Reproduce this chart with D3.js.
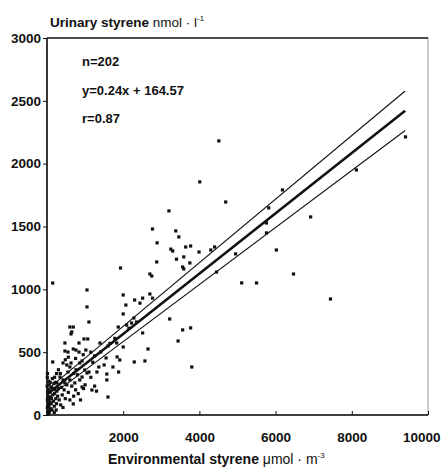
<!DOCTYPE html>
<html>
<head>
<meta charset="utf-8">
<script src="https://cdn.jsdelivr.net/npm/d3@7"></script>
<style>
  body { margin: 0; background: #fff; }
  svg text { font-family: "Liberation Sans", Arial, sans-serif; fill: #111; }
</style>
</head>
<body>
<div id="chart"></div>
<script>
// valeurs (x = styrene ambiant, y = styrene urinaire)
const X_TICKS = [2000, 4000, 6000, 8000, 10000];
const Y_TICKS = [0, 500, 1000, 1500, 2000, 2500, 3000];
const STATS = ["n=202", "y=0.24x + 164.57", "r=0.87"];

// droite de regression + les deux droites encadrantes : [ordonnee a l'origine, pente]
const FIT = [164.57, 0.24];
const BAND_UPPER = [200, 0.253];
const BAND_LOWER = [130, 0.227];
const FIT_RANGE = [0, 9400];

const pointsX = [
  9410, 8120, 6180, 5820, 5760, 5760, 6920, 6020, 6470, 7440,
  4510, 4010, 4690, 5110, 5500, 4950, 4450, 3200, 2770, 2890,
  3380, 3460, 3250, 3300, 3640, 3770, 3400, 3590, 3560, 3590,
  3750, 3990, 4300, 4400, 2880, 2700, 2750, 1930, 1050, 1050,
  1100, 2000, 2070, 2000, 2300, 2440, 2510, 2700, 2770, 1870,
  2090, 2220, 2280, 3220, 2510, 3560, 3770, 3440, 2650, 2570,
  2290, 3800, 1910, 1840, 1730, 1880, 2000, 1830, 1390, 1600,
  1410, 1550, 1500, 1360, 1570, 1570, 1310, 600, 650, 630,
  690, 470, 840, 970, 1070, 470, 550, 690, 760, 840,
  1020, 150, 420, 520, 600, 630, 860, 920, 990, 1050,
  1100, 860, 920, 550, 340, 420, 470, 600, 260, 730,
  150, 1600, 690, 1180, 920, 960, 1650, 1780, 2150, 2350,
  20, 40, 60, 80, 100, 30, 50, 70, 90, 110,
  130, 150, 170, 190, 210, 230, 250, 60, 120, 180,
  30, 15, 45, 85, 140, 200, 240, 280, 300, 25,
  10, 10, 5, 35, 55, 75, 95, 115, 160, 190,
  220, 260, 320, 360, 380, 400, 420, 450, 480, 520,
  560, 600, 650, 700, 750, 800, 820, 880, 1000, 1150,
  1250, 1300, 700, 760, 350, 300, 250, 200, 480, 560,
  750, 1200, 1250, 1150, 950, 8, 12, 18
];
const pointsY = [
  2213, 1950, 1791, 1648, 1528, 1449, 1576, 1313, 1122, 923,
  2181, 1855, 1695, 1051, 1051, 1282, 1138, 1624, 1480, 1370,
  1465, 1417, 1320, 1305, 1337, 1345, 1240, 1258, 1178, 1162,
  1210, 1297, 1313, 1337, 1218, 1122, 1106, 1170, 995, 860,
  740, 955, 875, 804, 915, 890, 930, 963, 930, 700,
  716, 732, 772, 764, 653, 677, 693, 589, 525, 430,
  422, 382, 438, 462, 382, 342, 541, 573, 573, 549,
  501, 454, 398, 382, 326, 279, 342, 700, 661, 645,
  700, 573, 573, 605, 605, 509, 501, 525, 517, 501,
  517, 422, 414, 398, 382, 414, 414, 430, 358, 334,
  342, 279, 302, 342, 302, 279, 255, 279, 255, 255,
  1050, 143, 88, 199, 223, 210, 570, 610, 690, 740,
  30, 60, 20, 100, 50, 150, 120, 180, 140, 90,
  40, 160, 110, 70, 200, 130, 90, 240, 220, 250,
  90, 180, 200, 260, 290, 170, 40, 150, 210, 10,
  60, 120, 230, 270, 80, 45, 190, 130, 210, 20,
  260, 190, 120, 80, 220, 160, 60, 200, 130, 240,
  180, 120, 230, 150, 200, 320, 170, 120, 240, 300,
  230, 190, 330, 360, 330, 360, 330, 300, 440, 460,
  450, 420, 470, 500, 480, 300, 330, 5
];

const W = 441, H = 468;

const svg = d3.select("#chart").append("svg")
    .attr("width", W)
    .attr("height", H);

const x = d3.scaleLinear().domain([0, 10000]).range([47, 428]);
const y = d3.scaleLinear().domain([0, 3000]).range([415, 38]);

// cadre
svg.append("rect")
    .attr("x", x(0)).attr("y", y(3000))
    .attr("width", x(10000) - x(0)).attr("height", y(0) - y(3000))
    .attr("fill", "none").attr("stroke", "#999").attr("stroke-width", 1);
svg.append("line")
    .attr("x1", x(0)).attr("x2", x(0)).attr("y1", y(3000)).attr("y2", y(0))
    .attr("stroke", "#111").attr("stroke-width", 1.6);
svg.append("line")
    .attr("x1", x(0)).attr("x2", x(10000)).attr("y1", y(0)).attr("y2", y(0))
    .attr("stroke", "#111").attr("stroke-width", 1.6);
svg.append("line")
    .attr("x1", x(0)).attr("x2", x(10000)).attr("y1", y(3000)).attr("y2", y(3000))
    .attr("stroke", "#222").attr("stroke-width", 1.4);

// axe y
const yAxis = svg.append("g")
    .attr("transform", `translate(${x(0)},0)`)
    .call(d3.axisLeft(y).tickValues(Y_TICKS).tickFormat(d3.format("d"))
        .tickSize(4).tickSizeOuter(0).tickPadding(2));
yAxis.select(".domain").remove();
yAxis.selectAll("text")
    .attr("font-size", 13.5).attr("font-weight", 700)
    .attr("font-family", "Liberation Sans, Arial, sans-serif")
    .attr("fill", "#111");
yAxis.selectAll("line").attr("stroke", "#111");

// axe x (graduations vers l'interieur)
const xAxis = svg.append("g")
    .attr("transform", `translate(0,${y(0)})`)
    .call(d3.axisBottom(x).tickValues(X_TICKS).tickFormat(d3.format("d"))
        .tickSize(-4).tickSizeOuter(0).tickPadding(17));
xAxis.select(".domain").remove();
xAxis.selectAll("text")
    .attr("font-size", 13.5).attr("font-weight", 700)
    .attr("font-family", "Liberation Sans, Arial, sans-serif")
    .attr("fill", "#111");
// le dernier libelle est coupe dans l'original : on le garde dans la page
xAxis.selectAll(".tick").filter(d => d === 10000).select("text")
    .attr("text-anchor", "end").attr("dx", 440 - x(10000));
xAxis.selectAll("line").attr("stroke", "#111");

// droites
function drawFit(coef, width) {
    svg.append("line")
        .attr("x1", x(FIT_RANGE[0])).attr("y1", y(coef[0] + coef[1] * FIT_RANGE[0]))
        .attr("x2", x(FIT_RANGE[1])).attr("y2", y(coef[0] + coef[1] * FIT_RANGE[1]))
        .attr("stroke", "#111").attr("stroke-width", width);
}
drawFit(BAND_UPPER, 1.1);
drawFit(BAND_LOWER, 1.1);
drawFit(FIT, 2.6);

// points
const data = pointsX.map((v, i) => ({ x: v, y: pointsY[i] }));
svg.append("g").selectAll("rect")
    .data(data)
    .join("rect")
    .attr("x", d => x(d.x) - 1.6)
    .attr("y", d => y(d.y) - 1.6)
    .attr("width", 3.2)
    .attr("height", 3.2)
    .attr("fill", "#111");

// texte statistiques
svg.append("g").selectAll("text")
    .data(STATS)
    .join("text")
    .attr("x", 82)
    .attr("y", (d, i) => 66 + i * 28.5)
    .attr("font-size", 13)
    .attr("font-weight", 700)
    .text(d => d);

// titres d'axes
const yt = svg.append("text")
    .attr("x", 50).attr("y", 27)
    .attr("font-size", 13.5).attr("font-weight", 700);
yt.append("tspan").text("Urinary styrene ");
yt.append("tspan").attr("font-weight", 400).text(" nmol · l");
yt.append("tspan").attr("font-weight", 400).attr("font-size", 8).attr("dy", -6).text("-1");

const xt = svg.append("text")
    .attr("x", 108).attr("y", 464)
    .attr("font-size", 14).attr("font-weight", 700);
xt.append("tspan").text("Environmental styrene ");
xt.append("tspan").attr("font-weight", 400).text(" μmol · m");
xt.append("tspan").attr("font-weight", 400).attr("font-size", 8).attr("dy", -6).text("-3");
</script>
</body>
</html>
